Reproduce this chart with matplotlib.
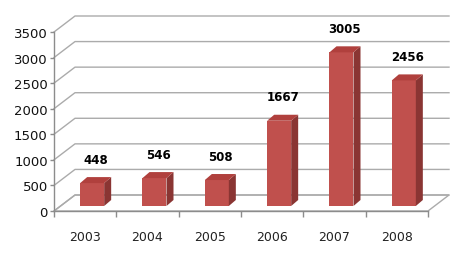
import matplotlib.pyplot as plt
from matplotlib.patches import Polygon
import numpy as np

# data
years = ['2003', '2004', '2005', '2006', '2007', '2008']
values = [448, 546, 508, 1667, 3005, 2456]
y_ticks = [0, 500, 1000, 1500, 2000, 2500, 3000, 3500]

W, H = 464, 255
fig = plt.figure(figsize=(W / 100, H / 100), dpi=100)
ax = fig.add_axes([54 / W, 43 / H, 374 / W, 179 / H])
ax.set_xlim(-0.5, 5.5)
ax.set_ylim(0, 3500)

# pixel -> data units
px_x = 6 / 374
px_y = 3500 / 179
DX, DY = 21 * px_x, 16 * px_y  # wall depth

grid_c = '#ABABAB'

# floor
floor = Polygon([(-0.5, 0), (5.5, 0), (5.5 + DX, DY), (-0.5 + DX, DY)],
                closed=True, facecolor='white', edgecolor=grid_c, lw=1.0,
                clip_on=False, zorder=1)
ax.add_patch(floor)

# side wall diagonals + back wall gridlines
for t in y_ticks:
    ax.plot([-0.5, -0.5 + DX, 5.5 + DX], [t, t + DY, t + DY],
            color=grid_c, lw=1.0, clip_on=False, zorder=1)

# bars (front face, top, side)
x = np.arange(len(years))
off_x, off_y = 7 * px_x, 5 * px_y
bw = 24 * px_x
bx, by = 7 * px_x, 6 * px_y
front_c, top_c, side_c = '#C0504D', '#B0403D', '#8A3533'

for xi, v in zip(x, values):
    l = xi + off_x - bw / 2
    r = l + bw
    base = off_y
    top = v + off_y
    ax.bar(xi + off_x, v, bottom=base, width=bw, color=front_c,
           edgecolor='none', zorder=3)
    ax.add_patch(Polygon([(r, base), (r, top), (r + bx, top + by), (r + bx, base + by)],
                         closed=True, facecolor=side_c, edgecolor='none', zorder=3))
    ax.add_patch(Polygon([(l, top), (r, top), (r + bx, top + by), (l + bx, top + by)],
                         closed=True, facecolor=top_c, edgecolor='none', zorder=3))
    ax.annotate(str(v), (xi + off_x + bx / 2, top), xytext=(0, 24),
                textcoords='offset pixels', ha='center', va='center',
                fontsize=8.5, fontweight='bold', color='black',
                annotation_clip=False)

# axes styling
for s in ['top', 'right']:
    ax.spines[s].set_visible(False)
for s in ['left', 'bottom']:
    ax.spines[s].set_color('#8C8C8C')
    ax.spines[s].set_linewidth(1.0)
    ax.spines[s].set_zorder(4)

ax.set_yticks(y_ticks)
ax.set_yticklabels([str(t) for t in y_ticks])
ax.tick_params(axis='y', length=3, width=1, color='#8C8C8C', pad=1.5,
               labelsize=9.5, labelcolor='#111111')

ax.set_xticks(x)
ax.set_xticklabels(years)
ax.set_xticks(np.arange(-0.5, 6, 1), minor=True)
ax.tick_params(axis='x', which='major', length=0, pad=14,
               labelsize=9, labelcolor='#222222')
ax.tick_params(axis='x', which='minor', length=4, width=1, color='#8C8C8C')
ax.patch.set_visible(False)

fig.savefig('out.png', dpi=100)
